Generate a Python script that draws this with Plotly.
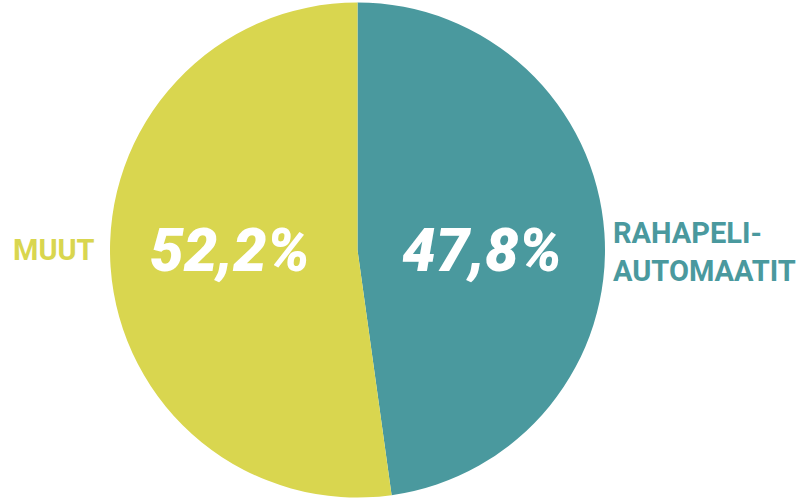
import plotly.graph_objects as go

labels = ["RAHAPELI-<br>AUTOMAATIT", "MUUT"]
values = [47.8, 52.2]
value_texts = ["47,8%", "52,2%"]
colors = ["#4A999E", "#D9D64F"]

W, H = 796, 500
cx, cy, r = 357.5, 250, 247.5

fig = go.Figure(go.Pie(
    labels=labels,
    values=values,
    sort=False,
    direction="clockwise",
    rotation=0,
    marker=dict(colors=colors, line=dict(width=0)),
    textinfo="none",
    hoverinfo="skip",
    showlegend=False,
    domain=dict(x=[(cx - r) / W, (cx + r) / W], y=[(cy - r) / H, (cy + r) / H]),
))

label_font = "Roboto, sans-serif"
pct_font = "Roboto, Liberation Sans, sans-serif"

annotations = [
    # outside category labels
    dict(x=611 / W, y=1 - 252 / H, xanchor="left", yanchor="middle", text=labels[0],
         align="left", font=dict(family=label_font, size=29, color=colors[0], weight=700)),
    dict(x=97 / W, y=1 - 250 / H, xanchor="right", yanchor="middle", text=labels[1],
         font=dict(family=label_font, size=29, color=colors[1], weight=700)),
    # percentages
    dict(x=482 / W, y=1 - 250 / H, xanchor="center", yanchor="middle", text=value_texts[0],
         font=dict(family=pct_font, size=60, color="white", weight=900, style="italic")),
    dict(x=230 / W, y=1 - 250 / H, xanchor="center", yanchor="middle", text=value_texts[1],
         font=dict(family=pct_font, size=60, color="white", weight=900, style="italic")),
]
for a in annotations:
    a.update(xref="paper", yref="paper", showarrow=False)

fig.update_layout(
    width=W, height=H,
    margin=dict(l=0, r=0, t=0, b=0),
    paper_bgcolor="white",
    plot_bgcolor="white",
    annotations=annotations,
)

fig.write_html("out.html", config={"displayModeBar": False})
